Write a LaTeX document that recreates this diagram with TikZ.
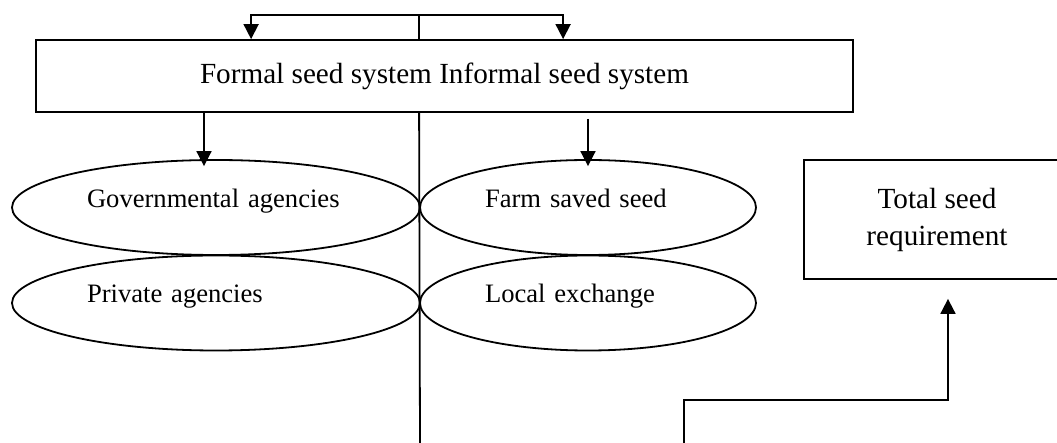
\documentclass[tikz,border=0pt]{standalone}
\usepackage{fontspec}
\setmainfont{Liberation Serif}
\usetikzlibrary{arrows.meta,shapes.geometric}
\tikzset{%
  sysbox/.style = {shape=rectangle, draw, inner sep=0pt,%
                   minimum width=408.5pt, minimum height=36pt,%
                   font=\fontsize{14.6}{18.5}\selectfont},%
  reqbox/.style = {sysbox, align=center,%
                   minimum width=133pt, minimum height=59.5pt},%
  oval/.style   = {shape=ellipse, draw, inner sep=0pt, align=left,%
                   minimum height=47.5pt, text height=0pt, text depth=0pt,%
                   font=\fontsize{13.3}{16}\selectfont},%
  flow/.style   = {-{Triangle[length=7.5pt,width=7.5pt]}}%
}
\begin{document}
\begin{tikzpicture}[x=0.5pt,y=-0.5pt,line width=0.9pt]
	\clip (0,0) rectangle (1057,443);
	\node [sysbox] (seedsys) at (444.5,76) {Formal seed system Informal seed system};
	\node [oval, minimum width=204pt, text width=129pt] (gov) at (216,207.5) {Governmental agencies};
	\node [oval, minimum width=204pt, text width=129pt] (priv) at (216,303) {Private agencies};
	\node [oval, minimum width=168pt, text width=103pt] (farm) at (588,207.5) {Farm saved seed};
	\node [oval, minimum width=168pt, text width=103pt] (local) at (588,303) {Local exchange};
	\node [reqbox] (total) at (937,219.5) {Total seed\\requirement};
	\coordinate (fork) at ([xshift=192pt,yshift=12pt]seedsys.north west);
	\coordinate (base) at (420,443);
	\coordinate (feed) at (684,443);
	% split above the box
	\draw (fork) -- (fork |- seedsys.north);
	\draw [flow] (fork) -| ([xshift=108pt]seedsys.north west);
	\draw [flow] (fork) -| ([xshift=264pt]seedsys.north west);
	% the two systems
	\draw [flow,shorten >=-3.5pt] ([xshift=-6pt]gov.north |- seedsys.south) -- ([xshift=-6pt]gov.north);
	\draw [flow,shorten >=-3.5pt] ([yshift=-3pt]farm.north |- seedsys.south) -- (farm.north);
	\draw (fork |- seedsys.south) -- (base);
	% towards the requirement
	\draw [flow] (feed) -- ++(0,21.5pt) -| ([xshift=5.5pt,yshift=-9.5pt]total.south);
\end{tikzpicture}
\end{document}
